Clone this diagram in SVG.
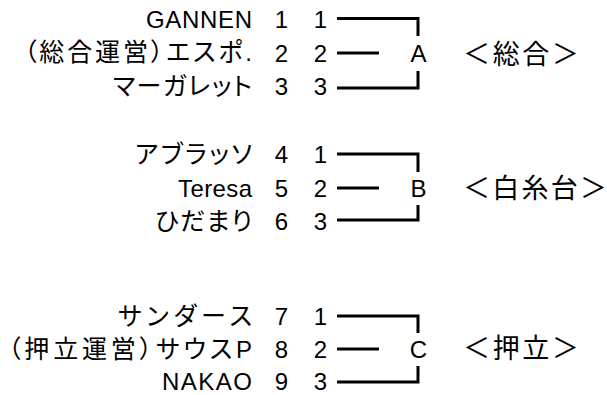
<svg xmlns="http://www.w3.org/2000/svg" width="607" height="395" viewBox="0 0 607 395">
<style>
.t{font-family:"Liberation Sans","Noto Sans CJK JP",sans-serif;font-size:24px;fill:#000}
.j{font-family:"Noto Sans CJK JP",sans-serif;font-size:25px;font-feature-settings:"palt" 1}
.n{text-anchor:end}
.m{text-anchor:middle}
.g{font-family:"Noto Sans CJK JP",sans-serif;font-size:27px;fill:#000}
.c{fill:none;stroke:#000;stroke-width:3;stroke-linejoin:miter;stroke-linecap:butt}
</style>
<rect width="607" height="395" fill="#fff"/>
<g id="connectors">
<path class="c" d="M337,18.5H418V36M337,53H379M337,88H418V71"/>
<path class="c" d="M337,154H418V172M337,188H379M337,220H418V205"/>
<path class="c" d="M337,316H418V333M337,349H379M337,382H418V366"/>
</g>
<g id="teamA1"><text class="t n" x="252" y="28" textLength="106" lengthAdjust="spacing">GANNEN</text><text class="t n" x="288" y="28">1</text><text class="t n" x="327" y="28">1</text></g>
<g id="teamA2"><text class="t n" x="252" y="61" textLength="228" lengthAdjust="spacing"><tspan class="j">（総合運営）エスポ</tspan>.</text><text class="t n" x="288" y="62">2</text><text class="t n" x="327" y="62">2</text></g>
<g id="teamA3"><text class="t n" x="252" y="95" textLength="139" lengthAdjust="spacing"><tspan class="j">マーガレット</tspan></text><text class="t n" x="288" y="95">3</text><text class="t n" x="327" y="95">3</text></g>
<g id="teamB1"><text class="t n" x="252" y="163" textLength="117" lengthAdjust="spacing"><tspan class="j">アブラッソ</tspan></text><text class="t n" x="288" y="163">4</text><text class="t n" x="327" y="163">1</text></g>
<g id="teamB2"><text class="t n" x="252" y="197" textLength="74" lengthAdjust="spacing">Teresa</text><text class="t n" x="288" y="197">5</text><text class="t n" x="327" y="197">2</text></g>
<g id="teamB3"><text class="t n" x="252" y="230" textLength="97" lengthAdjust="spacing"><tspan class="j">ひだまり</tspan></text><text class="t n" x="288" y="230">6</text><text class="t n" x="327" y="230">3</text></g>
<g id="teamC1"><text class="t n" x="252" y="325" textLength="134" lengthAdjust="spacing"><tspan class="j">サンダース</tspan></text><text class="t n" x="288" y="325">7</text><text class="t n" x="327" y="325">1</text></g>
<g id="teamC2"><text class="t n" x="252" y="358" textLength="244" lengthAdjust="spacing"><tspan class="j">（押立運営）サウス</tspan>P</text><text class="t n" x="288" y="358">8</text><text class="t n" x="327" y="358">2</text></g>
<g id="teamC3"><text class="t n" x="252" y="390" textLength="90" lengthAdjust="spacing">NAKAO</text><text class="t n" x="288" y="390">9</text><text class="t n" x="327" y="390">3</text></g>
<g id="blockA"><text class="t m" x="418.5" y="62">A</text><text class="g" x="463" y="64" textLength="116" lengthAdjust="spacing">＜総合＞</text></g>
<g id="blockB"><text class="t m" x="418.5" y="197">B</text><text class="g" x="463" y="198" textLength="144" lengthAdjust="spacing">＜白糸台＞</text></g>
<g id="blockC"><text class="t m" x="418.5" y="358">C</text><text class="g" x="463" y="358" textLength="116" lengthAdjust="spacing">＜押立＞</text></g>
</svg>
